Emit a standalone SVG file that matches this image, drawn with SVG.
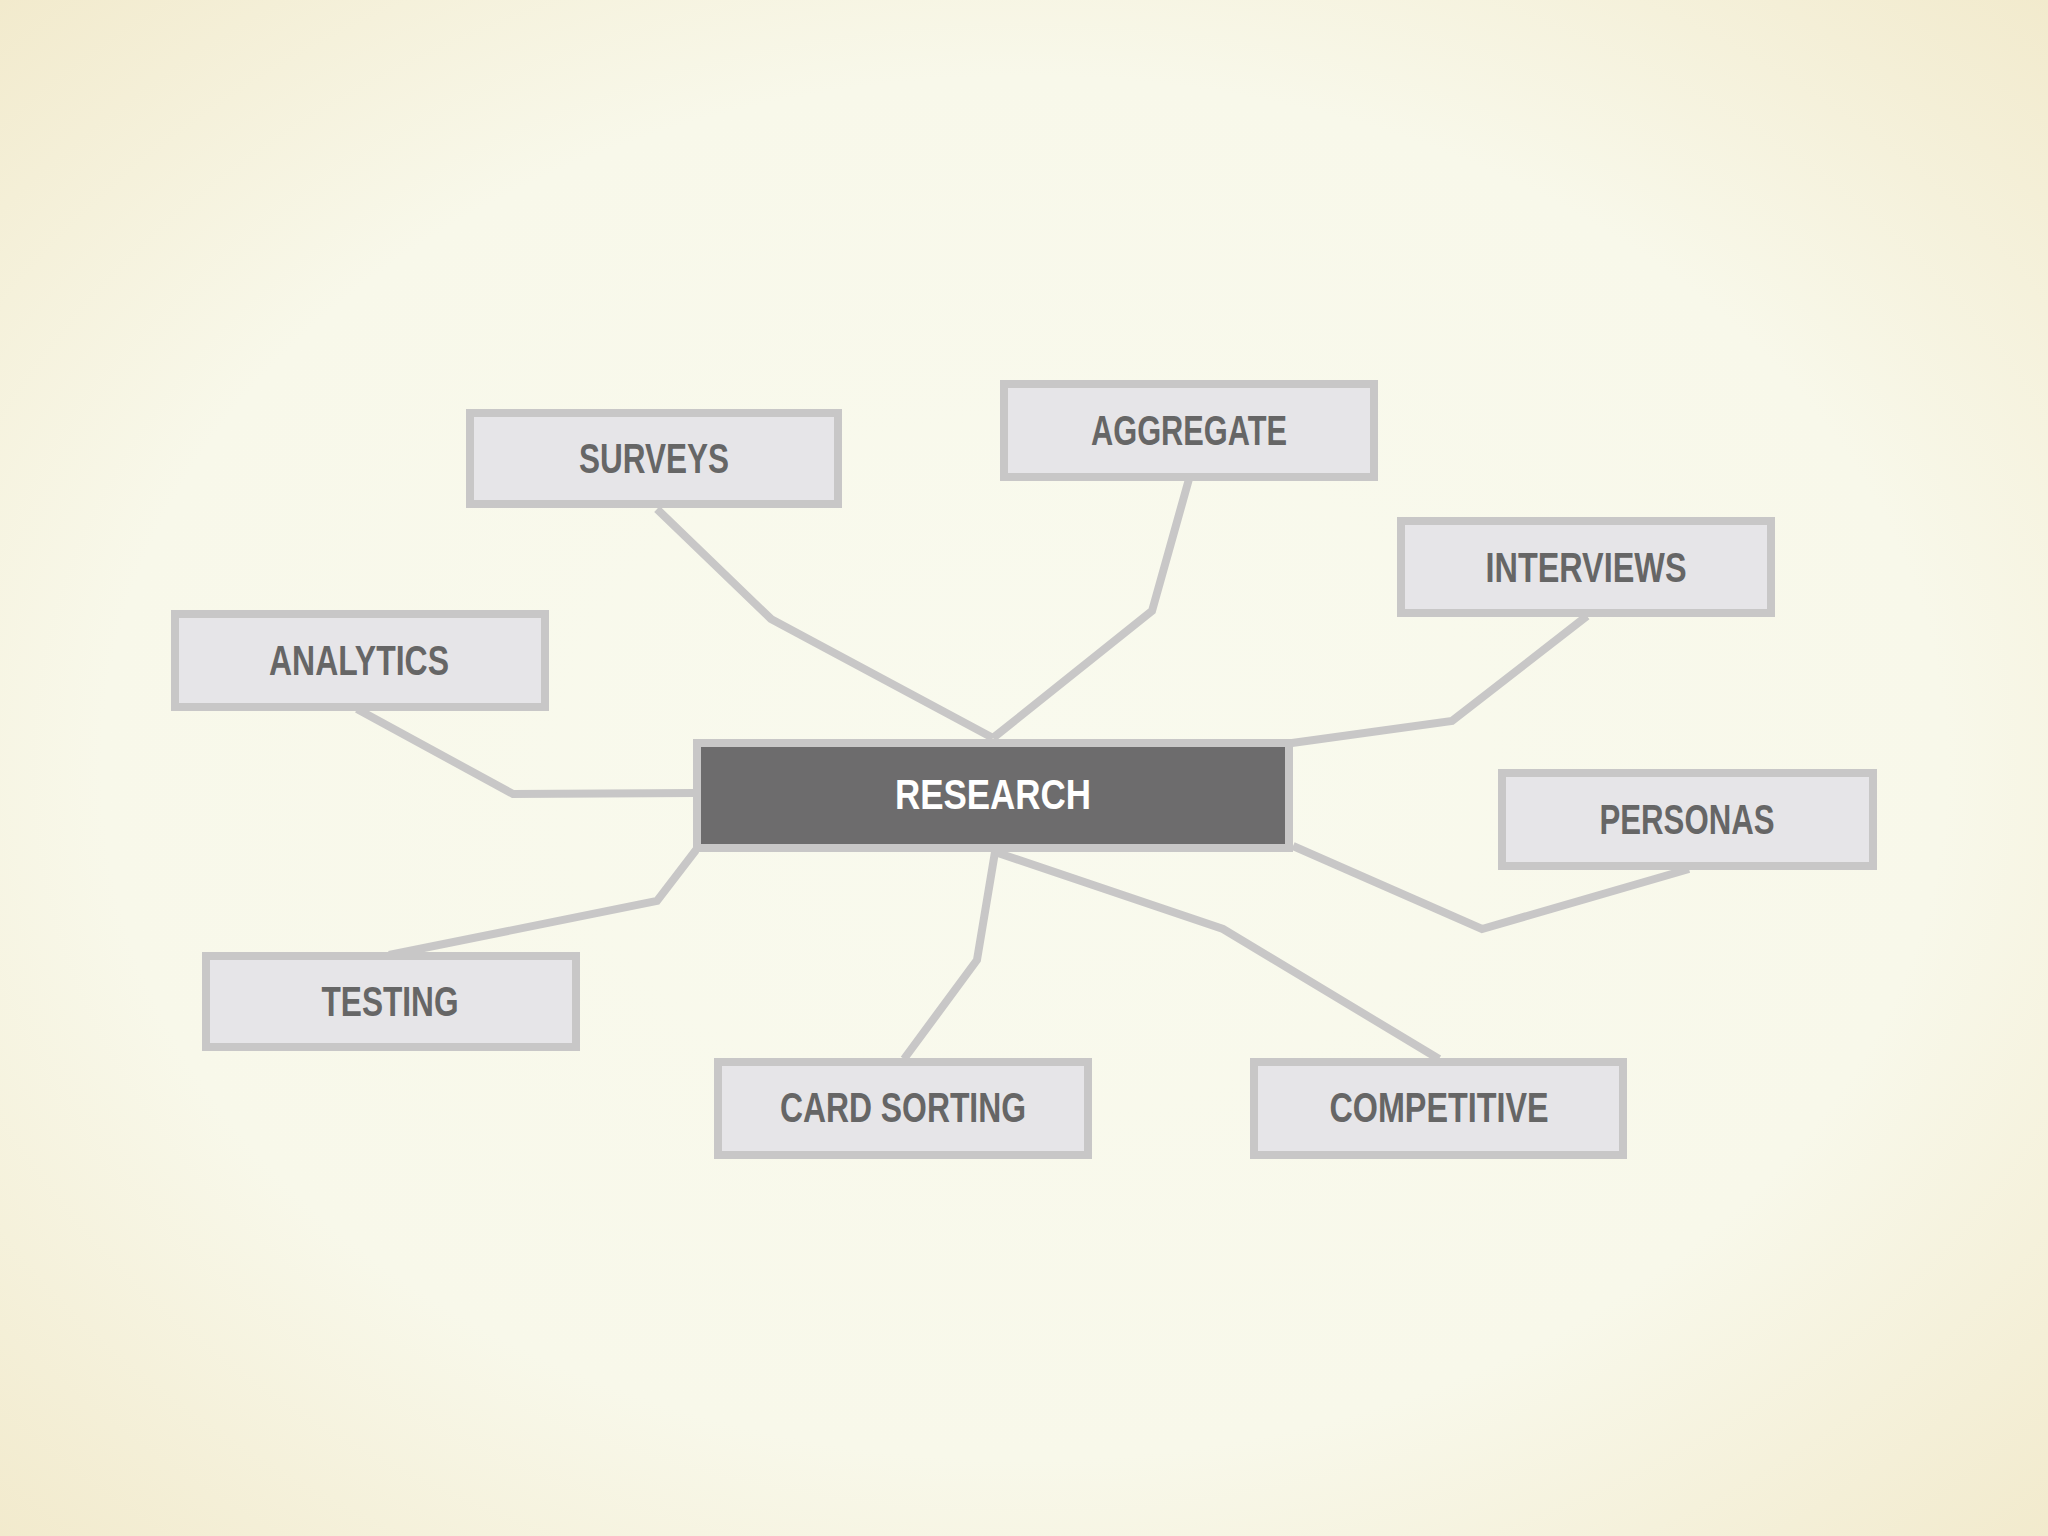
<svg xmlns="http://www.w3.org/2000/svg" width="2048" height="1536" viewBox="0 0 2048 1536">
<defs>
<radialGradient id="bg" cx="50%" cy="50%" r="75%">
<stop offset="0" stop-color="#f9faee"/><stop offset="0.6" stop-color="#f8f8ea"/><stop offset="1" stop-color="#f1e8c8"/>
</radialGradient>
<style>
.n rect{fill:#e6e5e8;stroke:#c8c7c7;stroke-width:8}
.n text{font-family:"Liberation Sans",Arial,sans-serif;font-weight:bold;font-size:42px;fill:#666;text-anchor:middle}
#research rect{fill:#6d6c6d}
#research text{fill:#fff}
#connectors polyline{fill:none;stroke:#c8c7c7;stroke-width:8;stroke-linejoin:miter}
</style>
</defs>
<rect width="2048" height="1536" fill="url(#bg)"/>
<g id="connectors">
<polyline points="657,509 771,619 993,738"/>
<polyline points="1189,479 1152,611 993,738"/>
<polyline points="1587,616 1452,721 1292,743"/>
<polyline points="357,709 513,794 695,793"/>
<polyline points="1689,869 1482,929 1293,846"/>
<polyline points="389,955 657,901 696,850"/>
<polyline points="904,1059 977,960 995,852"/>
<polyline points="1439,1059 1223,929 995,852"/>
</g>
<g id="surveys" class="n"><rect x="470" y="413" width="368" height="91"/><text x="654" y="473" textLength="150" lengthAdjust="spacingAndGlyphs">SURVEYS</text></g>
<g id="aggregate" class="n"><rect x="1004" y="384" width="370" height="93"/><text x="1189" y="445" textLength="196" lengthAdjust="spacingAndGlyphs">AGGREGATE</text></g>
<g id="interviews" class="n"><rect x="1401" y="521" width="370" height="92"/><text x="1586" y="582" textLength="201" lengthAdjust="spacingAndGlyphs">INTERVIEWS</text></g>
<g id="analytics" class="n"><rect x="175" y="614" width="370" height="93"/><text x="359" y="675" textLength="180" lengthAdjust="spacingAndGlyphs">ANALYTICS</text></g>
<g id="research" class="n"><rect x="697" y="743" width="592" height="105"/><text x="993" y="809" textLength="196" lengthAdjust="spacingAndGlyphs">RESEARCH</text></g>
<g id="personas" class="n"><rect x="1502" y="773" width="371" height="93"/><text x="1687" y="834" textLength="175" lengthAdjust="spacingAndGlyphs">PERSONAS</text></g>
<g id="testing" class="n"><rect x="206" y="956" width="370" height="91"/><text x="390" y="1016" textLength="137" lengthAdjust="spacingAndGlyphs">TESTING</text></g>
<g id="cardsorting" class="n"><rect x="718" y="1062" width="370" height="93"/><text x="903" y="1122" textLength="246" lengthAdjust="spacingAndGlyphs">CARD SORTING</text></g>
<g id="competitive" class="n"><rect x="1254" y="1062" width="369" height="93"/><text x="1439" y="1122" textLength="219" lengthAdjust="spacingAndGlyphs">COMPETITIVE</text></g>
</svg>
